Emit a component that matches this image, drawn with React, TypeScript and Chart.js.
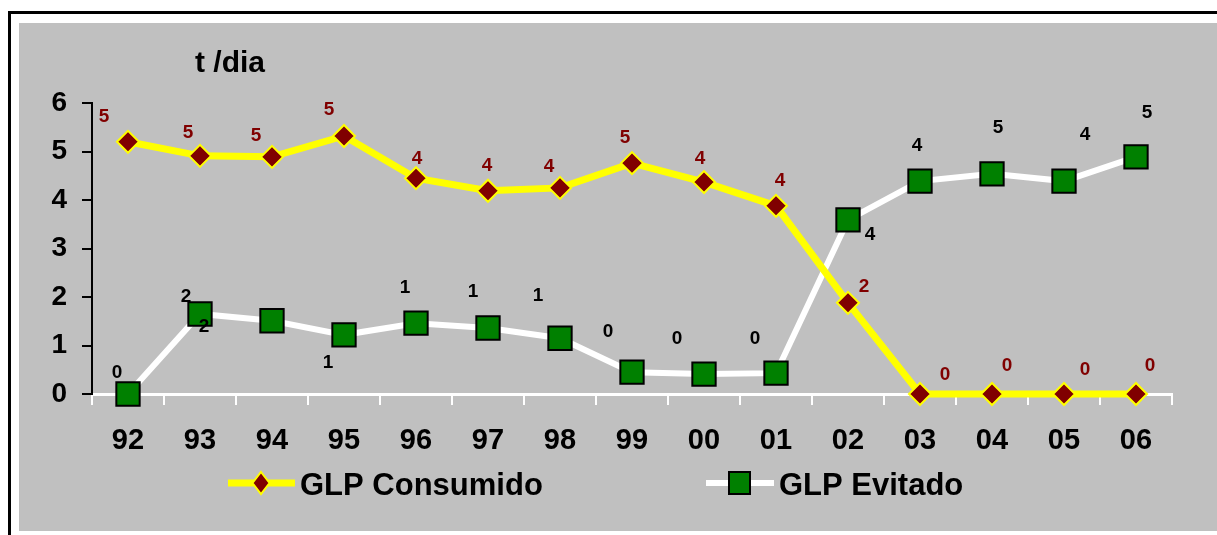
import React, { useEffect, useRef } from "react";
import { Chart, registerables } from "chart.js";

Chart.register(...registerables);

const years = ["92", "93", "94", "95", "96", "97", "98", "99", "00", "01", "02", "03", "04", "05", "06"];
const glpConsumido = [5.2, 4.91, 4.89, 5.32, 4.45, 4.19, 4.25, 4.76, 4.37, 3.88, 1.88, 0, 0, 0, 0];
const glpEvitado = [0, 1.65, 1.51, 1.22, 1.46, 1.36, 1.15, 0.45, 0.41, 0.43, 3.59, 4.39, 4.54, 4.39, 4.89];
const yTicks = [0, 1, 2, 3, 4, 5, 6];
const titleText = "t /dia";
const seriesNames = ["GLP Consumido", "GLP Evitado"];

// label offsets (relative to each point), styling only
const offConsumido: [number, number][] = [
  [-24, -25], [-12, -23], [-16, -21], [-15, -26], [1, -19], [-1, -25], [-11, -21], [-7, -25],
  [-4, -23], [4, -25], [16, -16], [25, -19], [15, -28], [21, -24], [14, -28],
];
const offEvitado: [number, number][] = [
  [-11, -21], [-14, -17], [-68, 6], [-16, 28], [-11, -35], [-15, -36], [-22, -42], [-24, -40],
  [-27, -35], [-21, -34], [22, 15], [-3, -35], [6, -46], [21, -46], [11, -44],
];

const FONT = "'Liberation Sans', Arial, Helvetica, sans-serif";
const MAROON = "#800000";
const YELLOW = "#FFFF00";
const GREEN = "#008000";

const overlayPlugin = {
  id: "overlay",
  afterDatasetsDraw(chart: any) {
    const ctx = chart.ctx;
    ctx.save();
    ctx.font = `bold 19px ${FONT}`;
    ctx.textAlign = "center";
    ctx.textBaseline = "middle";
    const offs = [offConsumido, offEvitado];
    const colors = [MAROON, "#000000"];
    chart.data.datasets.forEach((ds: any, di: number) => {
      const meta = chart.getDatasetMeta(di);
      meta.data.forEach((pt: any, i: number) => {
        const v = ds.data[i] as number;
        const [dx, dy] = offs[di][i];
        ctx.fillStyle = colors[di];
        ctx.fillText(String(Math.round(v)), pt.x + dx, pt.y + dy);
      });
    });
    ctx.restore();
  },
  afterDraw(chart: any) {
    const ctx = chart.ctx;
    ctx.save();
    // title
    ctx.font = `bold 30px ${FONT}`;
    ctx.fillStyle = "#000";
    ctx.textAlign = "left";
    ctx.textBaseline = "alphabetic";
    ctx.fillText(titleText, 176, 49);

    // legend
    const ly = 460;
    ctx.strokeStyle = YELLOW;
    ctx.lineWidth = 7;
    ctx.beginPath();
    ctx.moveTo(209, ly);
    ctx.lineTo(276, ly);
    ctx.stroke();
    ctx.beginPath();
    ctx.moveTo(242, ly - 11);
    ctx.lineTo(250.5, ly);
    ctx.lineTo(242, ly + 11);
    ctx.lineTo(233.5, ly);
    ctx.closePath();
    ctx.fillStyle = MAROON;
    ctx.fill();
    ctx.strokeStyle = YELLOW;
    ctx.lineWidth = 2;
    ctx.stroke();
    ctx.font = `bold 31px ${FONT}`;
    ctx.fillStyle = "#000";
    ctx.textBaseline = "middle";
    ctx.fillText(chart.data.datasets[0].label, 281, ly + 3);

    ctx.strokeStyle = "#FFFFFF";
    ctx.lineWidth = 6;
    ctx.beginPath();
    ctx.moveTo(687, ly);
    ctx.lineTo(755, ly);
    ctx.stroke();
    ctx.fillStyle = GREEN;
    ctx.fillRect(710, ly - 11, 21, 22);
    ctx.strokeStyle = "#000";
    ctx.lineWidth = 2;
    ctx.strokeRect(710, ly - 11, 21, 22);
    ctx.fillStyle = "#000";
    ctx.fillText(chart.data.datasets[1].label, 760, ly + 3);
    ctx.restore();
  },
};

export default function App() {
  const ref = useRef<HTMLCanvasElement | null>(null);
  useEffect(() => {
    if (!ref.current) return;
    const chart = new Chart(ref.current, {
      type: "line",
      data: {
        labels: years,
        datasets: [
          {
            label: seriesNames[0],
            data: glpConsumido,
            borderColor: YELLOW,
            borderWidth: 7,
            backgroundColor: MAROON,
            pointStyle: "rectRot",
            pointRadius: 11,
            pointBorderWidth: 2,
            pointBorderColor: YELLOW,
            pointBackgroundColor: MAROON,
            tension: 0,
            clip: false as any,
          },
          {
            label: seriesNames[1],
            data: glpEvitado,
            borderColor: "#FFFFFF",
            borderWidth: 6,
            backgroundColor: GREEN,
            pointStyle: "rect",
            pointRadius: 16.5,
            pointBorderWidth: 2,
            pointBorderColor: "#000000",
            pointBackgroundColor: GREEN,
            tension: 0,
            clip: false as any,
          },
        ],
      },
      options: {
        animation: false,
        responsive: false,
        devicePixelRatio: 1,
        layout: { padding: { left: 0, top: 80, right: 45, bottom: 77 } },
        plugins: {
          legend: { display: false },
          title: { display: false },
          tooltip: { enabled: false },
        },
        scales: {
          x: {
            type: "category",
            offset: true,
            grid: {
              display: true,
              drawOnChartArea: false,
              drawTicks: true,
              tickLength: 11,
              color: "#FFFFFF",
              lineWidth: 2,
              offset: true,
            },
            border: { display: true, color: "#FFFFFF", width: 3 },
            ticks: {
              color: "#000",
              font: { size: 29, weight: "bold", family: FONT },
              padding: 19,
              maxRotation: 0,
              autoSkip: false,
            },
            afterFit: (s: any) => {
              s.height = 60;
            },
          },
          y: {
            min: 0,
            max: 6,
            afterBuildTicks: (s: any) => {
              s.ticks = yTicks.map((v) => ({ value: v }));
            },
            grid: {
              display: true,
              drawOnChartArea: false,
              drawTicks: true,
              tickLength: 10,
              color: "#000",
              lineWidth: 2,
            },
            border: { display: true, color: "#000", width: 2 },
            ticks: {
              color: "#000",
              font: { size: 28, weight: "bold", family: FONT },
              padding: 15,
            },
            afterFit: (s: any) => {
              s.width = 73;
            },
          },
        },
      },
      plugins: [overlayPlugin],
    });
    return () => chart.destroy();
  }, []);

  return (
    <div
      style={{
        position: "fixed",
        left: 8,
        top: 11,
        width: 1260,
        height: 580,
        borderLeft: "3px solid #000",
        borderTop: "3px solid #000",
        background: "#fff",
      }}
    >
      <div
        style={{
          position: "absolute",
          left: 8,
          top: 9,
          width: 1198,
          height: 508,
          background: "#C0C0C0",
        }}
      >
        <canvas ref={ref} width={1198} height={508} style={{ display: "block" }} />
      </div>
    </div>
  );
}
